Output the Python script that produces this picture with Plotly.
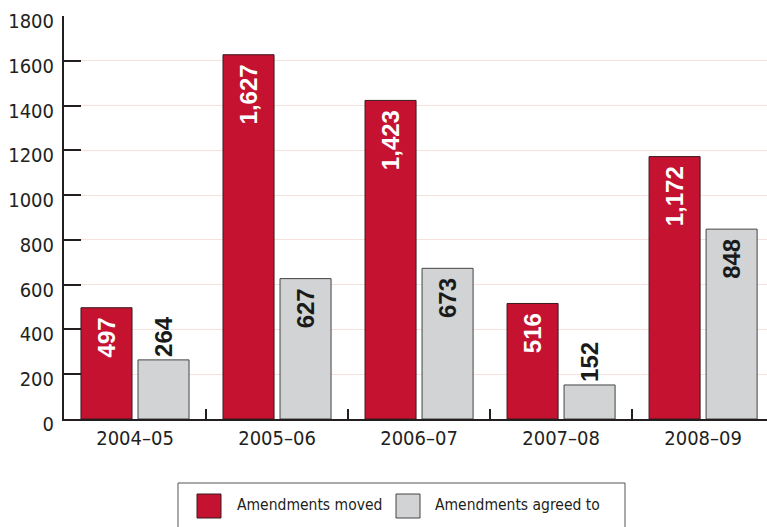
import plotly.graph_objects as go

years = ["2004–05", "2005–06", "2006–07", "2007–08", "2008–09"]
moved = [497, 1627, 1423, 516, 1172]
agreed = [264, 627, 673, 152, 848]
series_names = ["Amendments moved", "Amendments agreed to"]
y_ticks = [0, 200, 400, 600, 800, 1000, 1200, 1400, 1600, 1800]

RED = "#C41230"
GREY = "#D1D3D4"
W, H = 767, 527
ML, MR, MT, MB = 64, 0, 16, 108
PW, PH = W - ML - MR, H - MT - MB
NARROW = "DejaVu Sans Condensed, Liberation Sans Narrow, Arial Narrow, sans-serif"


def fmt(v):
    return f"{v:,}\u00a0"


def px(x):
    return (x - ML) / PW


def py(y):
    return (H - MB - y) / PH


fig = go.Figure()
fig.add_bar(
    x=years, y=moved, name=series_names[0],
    marker=dict(color=RED, line=dict(color="#3a1a1e", width=1)),
    text=[fmt(v) for v in moved], textposition="inside", insidetextanchor="end",
    textangle=-90, constraintext="none",
    insidetextfont=dict(family="Liberation Sans, Arial, sans-serif", size=24, color="white", weight="bold"),
    showlegend=False,
)
fig.add_bar(
    x=years, y=agreed, name=series_names[1],
    marker=dict(color=GREY, line=dict(color="#444444", width=1)),
    text=[fmt(v) for v in agreed],
    textposition=["inside" if v > 300 else "outside" for v in agreed],
    insidetextanchor="end", textangle=-90, constraintext="none",
    textfont=dict(family="Liberation Sans, Arial, sans-serif", size=24, color="#1a1a1a", weight="bold"),
    showlegend=False,
)

tickfont = dict(family=NARROW, size=20, color="#231f20")

fig.update_layout(
    width=W, height=H,
    margin=dict(l=ML, r=MR, t=MT, b=MB, pad=0),
    paper_bgcolor="white", plot_bgcolor="white",
    barmode="group", bargap=0.197, bargroupgap=0.105,
    xaxis=dict(
        range=[-0.5, 4.45], showline=True, linecolor="#231f20", linewidth=2,
        ticks="inside", tickson="boundaries", ticklen=10, tickwidth=2, tickcolor="#231f20",
        tickfont=tickfont, showgrid=False, fixedrange=True,
    ),
    yaxis=dict(
        range=[0, 1800], tickvals=y_ticks, ticktext=[str(v) for v in y_ticks],
        showline=True, linecolor="#231f20", linewidth=2,
        ticks="inside", ticklen=17, tickwidth=2, tickcolor="#231f20",
        tickfont=tickfont, showgrid=True, gridcolor="#f8e1dc", gridwidth=1,
        zeroline=False, ticklabelstandoff=4, ticklabelshift=5,
    ),
    font=dict(family=NARROW),
)

# Legend drawn as box, swatches and text
shapes = [
    dict(type="rect", xref="paper", yref="paper", x0=px(178), x1=px(625), y0=py(540), y1=py(483),
         line=dict(color="#555555", width=1), fillcolor="rgba(0,0,0,0)"),
    dict(type="rect", xref="paper", yref="paper", x0=px(197), x1=px(221), y0=py(518), y1=py(494),
         line=dict(color="#3a1a1e", width=1), fillcolor=RED),
    dict(type="rect", xref="paper", yref="paper", x0=px(396), x1=px(420), y0=py(518), y1=py(494),
         line=dict(color="#444444", width=1), fillcolor=GREY),
]
legfont = dict(family=NARROW, size=15.5, color="#231f20")
annotations = [
    dict(xref="paper", yref="paper", x=px(235), y=py(505), text=series_names[0], showarrow=False,
         xanchor="left", yanchor="middle", font=legfont),
    dict(xref="paper", yref="paper", x=px(433), y=py(505), text=series_names[1], showarrow=False,
         xanchor="left", yanchor="middle", font=legfont),
]
fig.update_layout(shapes=shapes, annotations=annotations)

fig.write_html("out.html")
